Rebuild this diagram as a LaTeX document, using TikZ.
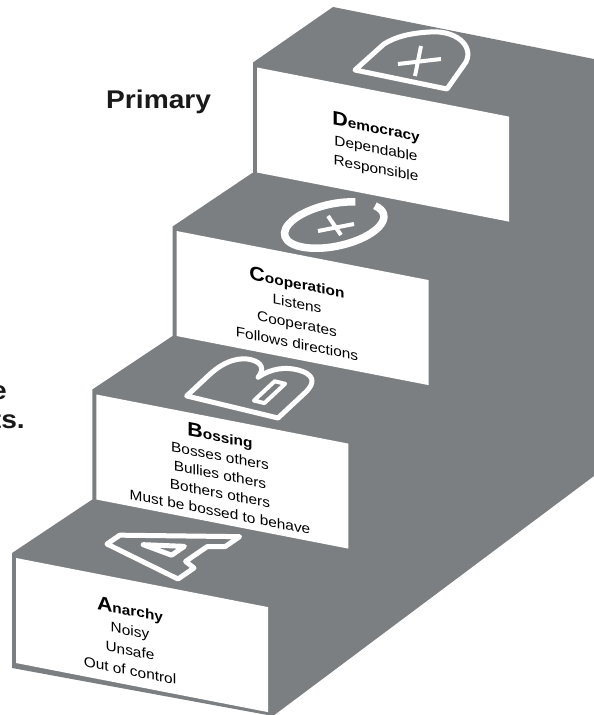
\documentclass[tikz,border=0pt]{standalone}
\usepackage{fontspec}
\setmainfont{Liberation Sans}[FakeStretch=1.1]
\definecolor{stair}{RGB}{124,127,129}
\newcommand\stepinitial[2]{{\bfseries\fontsize{19.5}{20}\selectfont #1}{\bfseries #2}}
\begin{document}
\begin{tikzpicture}[x=1pt,y=-1pt,
  facefill/.style={fill=white},
  letterline/.style={draw=white, line width=5pt, line join=round, line cap=round},
  ringline/.style={draw=white, line width=7.5pt},
  plusline/.style={draw=white, line width=4pt},
  facetext/.style={align=center, inner sep=0pt, yslant=-0.195, text=black,
    font=\fontsize{14}{20}\selectfont},
  sidetext/.style={inner sep=0pt, font=\fontsize{25.6}{28}\selectfont\bfseries, text=black!90}]
\useasboundingbox (0,0) rectangle (594,715);
\clip (0,0) rectangle (594,715);
% staircase silhouette
\fill[stair] (12,668) -- (12,553) -- (92.3,499.5) -- (92.3,389.5) -- (172.6,336)
  -- (172.6,226.5) -- (253,172.5) -- (253,62.5) -- (333,7) -- (594,59)
  -- (594,476) -- (273,716) -- cycle;
% white front faces
\foreach \fx/\fy in {16/558, 96.3/394.5, 176.6/231, 257/67.5}
  \fill[facefill] (\fx,\fy) -- ++(252,49.1) -- ++(0,105) -- ++(-252,-49.1) -- cycle;
% letter A on the lowest tread
\begin{scope}[shift={(16,558)}, x={(1pt,-0.195pt)}, y={(80pt,55pt)}]
  \draw[letterline] (55,0.45) -- (55,0.61) -- (150,0.92) -- (150,0.74) -- (136,0.69)
    -- (136,0.42) -- (150,0.35) -- (150,0.15) -- cycle;
  \draw[letterline] (118,0.47) -- (118,0.63) -- (84,0.54) -- cycle;
\end{scope}
% letter B
\begin{scope}[shift={(278,418)}, x={(45pt,42pt)}, y={(-87pt,21pt)}]
  \draw[letterline] (0,0) -- (0,1.05) -- (0.5,1.05)
    .. controls (0.86,1.05) and (0.98,0.94) .. (0.98,0.82)
    .. controls (0.98,0.68) and (0.85,0.6) .. (0.68,0.58)
    .. controls (0.92,0.55) and (1,0.42) .. (1,0.3)
    .. controls (1,0.1) and (0.85,0) .. (0.6,0) -- cycle;
  \draw[letterline, line width=4pt] (0.22,0.27) -- (0.68,0.27) -- (0.68,0.39) -- (0.22,0.39) -- cycle;
\end{scope}
% letter C with plus
\begin{scope}[shift={(176.6,231)}, x={(1pt,-0.195pt)}, y={(80pt,55pt)}]
  \draw[ringline] (106.2,0.906) arc[start angle=105, end angle=435, x radius=38, y radius=0.4];
\end{scope}
\draw[plusline] (318,231) -- (354,224) (328,216) -- (341,235);
% letter D with plus
\draw[letterline] (355,70) -- (447,89) -- (466,62) .. controls (474,45) and (455,30) .. (430,32)
  .. controls (410,33) and (395,37) .. (384,44) -- cycle;
\draw[plusline] (398,64) -- (441,59) (421,46) -- (415,76);
% texts on the risers
\node[facetext] (anarchy) at (130,639) {\stepinitial{A}{narchy}\\Noisy\\Unsafe\\Out of control};
\node[facetext, font=\fontsize{14}{18.7}\selectfont] (bossing) at (220,473) {\stepinitial{B}{ossing}\\Bosses others\\Bullies others\\Bothers others\\Must be bossed to behave};
\node[facetext] (cooperation) at (297,312) {\stepinitial{C}{ooperation}\\Listens\\Cooperates\\Follows directions};
\node[facetext] (democracy) at (376,148) {\stepinitial{D}{emocracy}\\Dependable\\Responsible};
% side texts
\node[sidetext, anchor=base west] (primary) at (106,108) {Primary};
\node[sidetext, anchor=base east] (cutA) at (7,399) {e};
\node[sidetext, anchor=base east] (cutB) at (25,428) {ts.};
\end{tikzpicture}
\end{document}
